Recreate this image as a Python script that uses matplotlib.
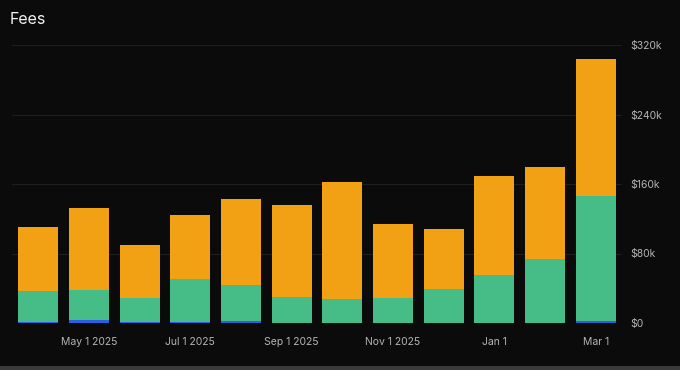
import matplotlib
matplotlib.use("Agg")
import matplotlib.pyplot as plt
from matplotlib.patches import Rectangle
import numpy as np

months = ["Apr 2025", "May 2025", "Jun 2025", "Jul 2025", "Aug 2025", "Sep 2025",
          "Oct 2025", "Nov 2025", "Dec 2025", "Jan 2026", "Feb 2026", "Mar 2026"]
# values in $k
blue = [1.7, 3.5, 0.8, 1.7, 2.3, 0.5, 0.5, 0.5, 0.3, 0.5, 0.3, 2.3]
green = [34.8, 34.1, 28.0, 48.6, 41.8, 29.8, 27.5, 28.3, 38.5, 55.1, 73.7, 143.8]
orange = [74.3, 95.1, 60.6, 74.0, 98.9, 105.8, 133.9, 85.5, 69.7, 113.6, 105.2, 157.7]
xtick_labels = ["May 1 2025", "Jul 1 2025", "Sep 1 2025", "Nov 1 2025", "Jan 1", "Mar 1"]
xtick_idx = [1, 3, 5, 7, 9, 11]
yticks = [0, 80, 160, 240, 320]
ytick_labels = ["$0", "$80k", "$160k", "$240k", "$320k"]

BG = "#0b0b0b"
C_BLUE = "#2c5ee0"
C_GREEN = "#46bd87"
C_ORANGE = "#f2a014"
TXT = "#b4b4b4"

plt.rcParams['font.family'] = ['Inter', 'DejaVu Sans']

fig = plt.figure(figsize=(6.8, 3.7), dpi=100, facecolor=BG)
ax = fig.add_axes([12/680, 47/370, 610/680, 278/370], facecolor=BG)

x = np.arange(len(months))
b = np.array(blue)
g = np.array(green)
o = np.array(orange)
w = 0.79
ax.bar(x, b, width=w, color=C_BLUE, zorder=3)
ax.bar(x, g, width=w, bottom=b, color=C_GREEN, zorder=3)
ax.bar(x, o, width=w, bottom=b + g, color=C_ORANGE, zorder=3)

ax.set_xlim(-0.52, 11.52)
ax.set_ylim(0, 320)
ax.set_yticks(yticks)
ax.set_yticklabels(ytick_labels)
ax.yaxis.tick_right()
ax.set_xticks(xtick_idx)
ax.set_xticklabels(xtick_labels)
ax.tick_params(axis='both', length=0, colors=TXT, labelsize=7.5)
ax.tick_params(axis='x', pad=10)
ax.tick_params(axis='y', pad=6)
ax.grid(axis='y', color="#1e1e1e", linewidth=0.8, zorder=0)
for s in ax.spines.values():
    s.set_visible(False)

fig.text(10/680, 1 - 20/370, "Fees", color="#f2f2f2", fontsize=11.5, va='center', ha='left')

# bottom screenshot strip
fig.patches.append(Rectangle((0, 0), 1, 4/370, transform=fig.transFigure,
                             facecolor="#3a3a3a", edgecolor='none', zorder=0))

fig.savefig("out.png", dpi=100, facecolor=BG)
